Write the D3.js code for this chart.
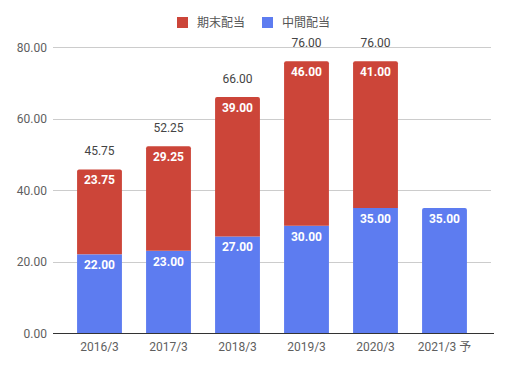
<!DOCTYPE html>
<html><head><meta charset="utf-8">
<script src="https://cdn.jsdelivr.net/npm/d3@7"></script>
<style>body{margin:0;background:#fff;}text{font-family:Roboto,"Noto Sans CJK JP",sans-serif;}</style>
</head><body><svg id="c" width="508" height="370"></svg>
<script>
const categories = ["2016/3","2017/3","2018/3","2019/3","2020/3","2021/3 予"];
const interim = [22.00, 23.00, 27.00, 30.00, 35.00, 35.00];
const yearEnd = [23.75, 29.25, 39.00, 46.00, 41.00, 0];
const totals = [45.75, 52.25, 66.00, 76.00, 76.00, null];
const seriesNames = ["期末配当", "中間配当"];
const yTicks = [0, 20, 40, 60, 80];
const colors = {red: "#cc4539", blue: "#5d7cf0"};

const svg = d3.select("#c");
const x = d3.scaleBand().domain(categories).range([65, 479]).paddingInner(0.35).paddingOuter(0.175);
const y = d3.scaleLinear().domain([0, 80]).range([333, 47]);

const yAxis = d3.axisLeft(y).tickValues(yTicks).tickFormat(d => d.toFixed(2)).tickSize(0).tickPadding(0);
const gy = svg.append("g").attr("transform", "translate(47,0)").call(yAxis);
gy.select(".domain").remove();
gy.selectAll("text").attr("fill", "#5f5f5f").attr("font-size", 12).attr("dy", "0.35em");
svg.append("g").selectAll("line").data(yTicks.filter(d => d > 0)).join("line")
  .attr("x1", 53).attr("x2", 491).attr("y1", d => Math.round(y(d)) + 0.5).attr("y2", d => Math.round(y(d)) + 0.5)
  .attr("stroke", "#cccccc").attr("stroke-width", 1);

function topRounded(x0, y0, w, h, r) {
  return `M${x0},${y0 + h}V${y0 + r}Q${x0},${y0} ${x0 + r},${y0}H${x0 + w - r}Q${x0 + w},${y0} ${x0 + w},${y0 + r}V${y0 + h}Z`;
}

const g = svg.append("g");
categories.forEach((c, i) => {
  const bx = x(c), bw = x.bandwidth();
  const hasRed = yearEnd[i] > 0;
  const by0 = y(interim[i]);
  if (hasRed) {
    g.append("rect").attr("x", bx).attr("y", by0).attr("width", bw).attr("height", y(0) - by0).attr("fill", colors.blue);
  } else {
    g.append("path").attr("d", topRounded(bx, by0, bw, y(0) - by0, 2)).attr("fill", colors.blue);
  }
  g.append("text").attr("x", bx + bw / 2).attr("y", by0 + 15).attr("text-anchor", "middle")
    .attr("fill", "#fff").attr("font-weight", "bold").attr("font-size", 12).text(interim[i].toFixed(2));
  if (hasRed) {
    const ry = y(interim[i] + yearEnd[i]);
    g.append("path").attr("d", topRounded(bx, ry, bw, by0 - ry, 2)).attr("fill", colors.red);
    g.append("text").attr("x", bx + bw / 2).attr("y", ry + 15).attr("text-anchor", "middle")
      .attr("fill", "#fff").attr("font-weight", "bold").attr("font-size", 12).text(yearEnd[i].toFixed(2));
  }
  if (totals[i] != null) {
    g.append("text").attr("x", bx + bw / 2).attr("y", y(totals[i]) - 14).attr("text-anchor", "middle")
      .attr("fill", "#444").attr("font-size", 12).text(totals[i].toFixed(2));
  }
});

svg.append("line").attr("x1", 53).attr("x2", 494).attr("y1", 333.5).attr("y2", 333.5).attr("stroke", "#333").attr("stroke-width", 1);

const xAxis = d3.axisBottom(x).tickSize(0).tickPadding(0);
const gx = svg.append("g").attr("transform", "translate(0,334)").call(xAxis);
gx.select(".domain").remove();
gx.selectAll("text").attr("fill", "#5f5f5f").attr("font-size", 12).attr("y", 8).attr("dy", "0.71em");

const legend = svg.append("g");
const legendItems = [{name: seriesNames[0], color: colors.red, x: 177}, {name: seriesNames[1], color: colors.blue, x: 262}];
legendItems.forEach(d => {
  legend.append("rect").attr("x", d.x).attr("y", 17).attr("width", 11).attr("height", 11).attr("fill", d.color);
  legend.append("text").attr("x", d.x + 20).attr("y", 27).attr("fill", "#555").attr("font-size", 12).text(d.name);
});
</script></body></html>
